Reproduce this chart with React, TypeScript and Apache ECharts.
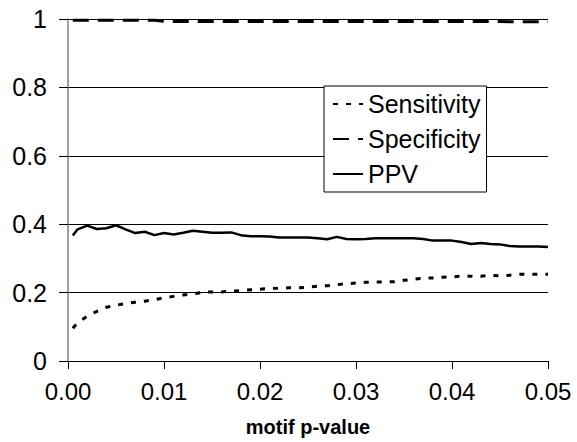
import React, { useEffect, useRef } from "react";
import * as echarts from "echarts";

const pValues = [
  0.0005, 0.001, 0.002, 0.003, 0.004, 0.005, 0.006, 0.007, 0.008, 0.009, 0.01,
  0.011, 0.012, 0.013, 0.014, 0.015, 0.016, 0.017, 0.018, 0.019, 0.02,
  0.021, 0.022, 0.023, 0.024, 0.025, 0.026, 0.027, 0.028, 0.029, 0.03,
  0.031, 0.032, 0.033, 0.034, 0.035, 0.036, 0.037, 0.038, 0.039, 0.04,
  0.041, 0.042, 0.043, 0.044, 0.045, 0.046, 0.047, 0.048, 0.049, 0.05,
];

const sensitivity = [
  0.096, 0.112, 0.131, 0.145, 0.157, 0.163, 0.168, 0.172, 0.175, 0.179, 0.185,
  0.189, 0.193, 0.196, 0.201, 0.202, 0.202, 0.204, 0.206, 0.208, 0.21,
  0.212, 0.213, 0.214, 0.214, 0.216, 0.219, 0.22, 0.223, 0.226, 0.228,
  0.23, 0.231, 0.231, 0.232, 0.236, 0.239, 0.242, 0.243, 0.245, 0.246,
  0.248, 0.248, 0.248, 0.25, 0.249, 0.251, 0.254, 0.254, 0.254, 0.254,
];

const specificity = [
  0.9965, 0.9965, 0.9965, 0.9965, 0.9965, 0.9964, 0.9964, 0.9963, 0.9963, 0.9962, 0.993,
  0.993, 0.993, 0.993, 0.993, 0.993, 0.993, 0.993, 0.993, 0.993, 0.993,
  0.9928, 0.9928, 0.9928, 0.9928, 0.9928, 0.9928, 0.9927, 0.9927, 0.9927, 0.9927,
  0.9926, 0.9926, 0.9926, 0.9926, 0.9926, 0.9925, 0.9925, 0.9925, 0.9925, 0.9925,
  0.9924, 0.9924, 0.9924, 0.9924, 0.9924, 0.9923, 0.9923, 0.9923, 0.9923, 0.9923,
];

const ppv = [
  0.367, 0.385, 0.396, 0.386, 0.388, 0.397, 0.385, 0.374, 0.378, 0.368, 0.374,
  0.37, 0.375, 0.381, 0.378, 0.375, 0.375, 0.376, 0.368, 0.365, 0.365,
  0.364, 0.361, 0.361, 0.361, 0.361, 0.359, 0.356, 0.363, 0.357, 0.356,
  0.357, 0.359, 0.359, 0.359, 0.359, 0.359, 0.357, 0.352, 0.352, 0.352,
  0.348, 0.342, 0.345, 0.342, 0.341, 0.336, 0.335, 0.335, 0.335, 0.333,
];

const FONT = "'Liberation Sans', Arial, sans-serif";

export default function App() {
  const ref = useRef<HTMLDivElement>(null);
  useEffect(() => {
    if (!ref.current) return;
    const chart = echarts.init(ref.current, undefined, { renderer: "svg" });
    const mk = (arr: number[]) => pValues.map((p, i) => [p, arr[i]]);
    chart.setOption({
      animation: false,
      backgroundColor: "#fff",
      textStyle: { fontFamily: FONT, color: "#000" },
      grid: { left: 68, right: 29, top: 19, bottom: 77, containLabel: false },
      legend: {
        orient: "vertical",
        left: 324,
        top: 86,
        width: 164,
        padding: [3, 6, 3, 8],
        itemGap: 5,
        itemWidth: 30,
        itemHeight: 14,
        backgroundColor: "#fff",
        borderColor: "#000",
        borderWidth: 1,
        borderRadius: 0,
        itemStyle: { opacity: 0 },
        textStyle: { fontFamily: FONT, fontSize: 25, color: "#000", lineHeight: 30 },
        data: ["Sensitivity", "Specificity", "PPV"],
      },
      xAxis: {
        type: "value",
        min: 0,
        max: 0.05,
        interval: 0.01,
        name: "motif p-value",
        nameLocation: "middle",
        nameGap: 56,
        nameTextStyle: { fontFamily: FONT, fontSize: 20, fontWeight: "bold", color: "#000" },
        axisLine: { onZero: false, lineStyle: { color: "#000", width: 1 } },
        axisTick: { show: true, length: 8, lineStyle: { color: "#000" } },
        axisLabel: {
          fontFamily: FONT,
          fontSize: 24,
          color: "#000",
          margin: 18,
          formatter: (v: number) => v.toFixed(2),
        },
        splitLine: { show: false },
      },
      yAxis: {
        type: "value",
        min: 0,
        max: 1,
        interval: 0.2,
        axisLine: { show: true, lineStyle: { color: "#808080", width: 1.5 } },
        axisTick: { show: true, length: 9, lineStyle: { color: "#000" } },
        axisLabel: {
          fontFamily: FONT,
          fontSize: 25,
          color: "#000",
          margin: 21,
          formatter: (v: number) => String(parseFloat(v.toFixed(1))),
        },
        splitLine: { show: true, lineStyle: { color: "#000", width: 1 } },
      },
      series: [
        {
          name: "Sensitivity",
          type: "line",
          data: mk(sensitivity),
          showSymbol: false,
          symbol: "none",
          lineStyle: { color: "#000", width: 3, type: [5, 8] },
          itemStyle: { color: "#000" },
        },
        {
          name: "Specificity",
          type: "line",
          data: mk(specificity),
          showSymbol: false,
          symbol: "none",
          lineStyle: { color: "#000", width: 3, type: [16, 9] },
          itemStyle: { color: "#000" },
        },
        {
          name: "PPV",
          type: "line",
          data: mk(ppv),
          showSymbol: false,
          symbol: "none",
          lineStyle: { color: "#000", width: 2.5 },
          itemStyle: { color: "#000" },
        },
      ],
    });
    return () => chart.dispose();
  }, []);
  return (
    <div
      ref={ref}
      style={{ position: "absolute", left: 0, top: 0, width: 577, height: 442 }}
    />
  );
}
